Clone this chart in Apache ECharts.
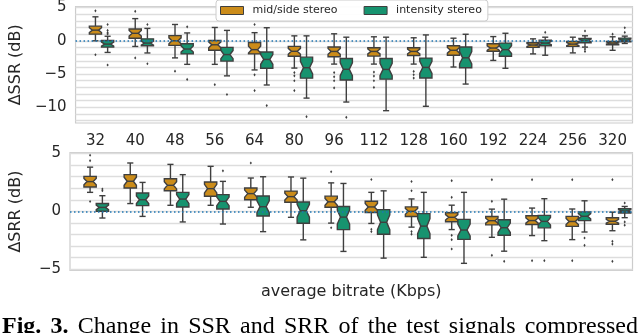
<!DOCTYPE html>
<html><head><meta charset="utf-8">
<script src="https://cdn.jsdelivr.net/npm/echarts@6/dist/echarts.min.js"></script>
<style>
html,body{margin:0;padding:0;background:#fff;overflow:hidden;width:640px;height:333px}
#chart{position:absolute;left:0;top:0;width:640px;height:333px}
#cap{position:absolute;left:2px;top:312px;width:636px;font-family:"Liberation Serif","Times New Roman",serif;font-size:24px;line-height:27px;text-align:justify;text-align-last:justify;color:#000}
</style></head><body>
<div id="chart"></div>
<div id="cap"><b>Fig. 3.</b> Change in SSR and SRR of the test signals compressed</div>
<script>
// ---- data ----
const categories = ['32','40','48','56','64','80','96','112','128','160','192','224','256','320'];
const seriesNames = ['mid/side stereo', 'intensity stereo'];
// each entry: [lower whisker, Q1, median, Q3, upper whisker]
const ssrMidSide = [
  [0.0, 1.0, 1.6, 2.2, 3.6],
  [-0.85, 0.38, 1.12, 1.77, 3.33],
  [-2.57, -0.69, 0.0, 0.78, 2.45],
  [-3.54, -1.43, -0.6, 0.04, 2.0],
  [-4.38, -1.97, -1.33, -0.25, 1.22],
  [-4.1, -2.32, -1.58, -0.84, 0.74],
  [-3.5, -2.4, -1.6, -0.94, 1.05],
  [-3.5, -2.3, -1.6, -1.05, 0.6],
  [-3.5, -2.2, -1.6, -1.05, 0.45],
  [-3.94, -2.17, -1.43, -0.74, 0.39],
  [-2.95, -1.58, -1.09, -0.45, 0.63],
  [-1.97, -0.99, -0.64, -0.3, 0.29],
  [-1.82, -0.84, -0.5, -0.1, 0.54],
  [-1.43, -0.6, -0.35, -0.1, 0.6]
];
const ssrIntensity = [
  [-1.75, -0.95, -0.5, 0.05, 0.68],
  [-1.83, -0.74, -0.35, 0.29, 1.86],
  [-3.54, -1.97, -1.24, -0.44, 1.18],
  [-5.27, -3.05, -2.07, -0.99, 1.56],
  [-6.64, -4.13, -2.8, -1.68, 1.96],
  [-8.61, -5.61, -4.04, -2.46, 0.74],
  [-9.2, -5.9, -4.28, -2.66, 0.54],
  [-10.5, -5.76, -4.3, -2.66, 0.54],
  [-9.84, -5.6, -4.0, -2.6, 0.88],
  [-6.5, -4.04, -2.56, -0.94, 0.98],
  [-4.13, -2.32, -1.33, -0.35, 1.13],
  [-2.17, -0.74, -0.35, 0.09, 0.54],
  [-0.95, -0.3, 0.05, 0.35, 0.75],
  [-0.4, -0.15, 0.1, 0.4, 0.7]
];
const ssrMidSideOutliers = [
  [4.5, -2.1], [4.42, -2.57], [-4.57], [-6.6], [2.45, -5.12, -7.48],
  [-4.78, -5.27, -6.0, -7.48], [-4.77, -5.41, -6.0, -7.08], [-4.7, -5.3, -6.0, -7.0],
  [-4.6, -5.1, -5.6], [], [], [], [], [1.0]
];
const ssrIntensityOutliers = [
  [2.45, 1.56, 1.22, 1.03, -3.64], [2.45, -3.45], [2.1, -5.81], [-8.07], [-9.73],
  [-11.4], [-11.5], [], [], [], [], [1.27], [1.47, -1.25, -1.6], [1.96, 1.25]
];
const srrMidSide = [
  [1.64, 2.1, 2.57, 3.02, 3.82],
  [0.67, 2.02, 2.6, 3.17, 4.18],
  [0.52, 1.78, 2.25, 2.82, 4.06],
  [0.52, 1.3, 1.96, 2.53, 3.89],
  [0.35, 1.0, 1.53, 2.02, 2.88],
  [-0.52, 0.78, 1.27, 1.75, 2.97],
  [-1.02, 0.35, 0.82, 1.31, 2.46],
  [-1.05, -0.1, 0.38, 0.87, 1.64],
  [-1.37, -0.45, 0.0, 0.38, 1.07],
  [-1.58, -0.9, -0.52, -0.12, 0.53],
  [-2.25, -1.17, -0.81, -0.45, 0.19],
  [-2.1, -1.14, -0.8, -0.38, 0.28],
  [-2.45, -1.3, -0.88, -0.44, 0.2],
  [-1.68, -1.12, -0.86, -0.56, -0.08]
];
const srrIntensity = [
  [-0.58, 0.0, 0.34, 0.67, 1.35],
  [-0.44, 0.49, 1.0, 1.58, 2.5],
  [-0.92, 0.37, 1.06, 1.64, 3.17],
  [-1.1, 0.2, 0.86, 1.44, 2.59],
  [-1.76, -0.4, 0.4, 1.32, 2.99],
  [-2.47, -1.03, 0.05, 0.8, 2.87],
  [-3.47, -1.58, -0.5, 0.42, 2.41],
  [-4.05, -1.98, -0.95, 0.15, 1.77],
  [-3.98, -2.35, -1.28, -0.2, 1.64],
  [-4.5, -2.43, -1.62, -0.7, 1.64],
  [-3.45, -2.07, -1.42, -0.73, 1.05],
  [-2.54, -1.43, -0.87, -0.35, 1.09],
  [-1.79, -0.81, -0.43, -0.05, 0.91],
  [-0.55, -0.15, 0.03, 0.22, 0.42]
];
const srrMidSideOutliers = [
  [4.85, 4.38, 0.85], [], [], [], [4.18], [], [3.42, -1.42], [2.75, -1.55, -1.75],
  [2.58, 1.78, -1.75, -1.98], [2.65, 1.21, -2.08, -2.45, -3.26], [2.74, 0.86, -3.81],
  [2.74, -4.27], [2.74, -4.27], [2.74, -2.6, -2.83, -4.33]
];
const srrIntensityOutliers = [
  [1.93, 1.78], [], [], [3.5], [], [], [], [], [], [], [-4.33], [-4.27], [-2.31, -2.94], [0.72, -0.92, -1.2]
];
const ssrTickLabels = [5, 0, -5, -10];
const ssrGridValues = [-12, -11, -10, -9, -8, -7, -6, -5, -4, -3, -2, -1, 0, 1, 2, 3, 4, 5];
const srrTickLabels = [5, 0, -5];
const srrGridValues = [-5, -4, -3, -2, -1, 0, 1, 2, 3, 4, 5];

// ---- style ----
const ORANGE = '#cb8c1a';
const GREEN = '#17936f';
const EDGE = '#3f3f3f';
const LW = 1.4;
const BOX_FRAC = 0.306;   // box width as fraction of category band
const NOTCH_K = 0.3;      // notch half-extent as fraction of IQR (1.57/sqrt(n))
const FONT = 'DejaVu Sans';
const TXT = '#262626';

function boxRender(offsetFrac, color) {
  return function (params, api) {
    const i = api.value(0);
    const low = api.value(1), q1 = api.value(2), med = api.value(3), q3 = api.value(4), high = api.value(5);
    const band = api.size([1, 0])[0];
    const w = band * BOX_FRAC;
    const cx = api.coord([i, med])[0] + offsetFrac * band;
    const y = v => api.coord([i, v])[1];
    const half = NOTCH_K * (q3 - q1);
    const L = cx - w / 2, R = cx + w / 2, cl = cx - w / 4, cr = cx + w / 4;
    const pts = [[L, y(q1)], [L, y(med - half)], [cl, y(med)], [L, y(med + half)], [L, y(q3)],
                 [R, y(q3)], [R, y(med + half)], [cr, y(med)], [R, y(med - half)], [R, y(q1)]];
    const ls = {stroke: EDGE, lineWidth: LW};
    return {
      type: 'group',
      children: [
        {type: 'line', shape: {x1: cx, y1: y(q3), x2: cx, y2: y(high)}, style: ls},
        {type: 'line', shape: {x1: cx, y1: y(q1), x2: cx, y2: y(low)}, style: ls},
        {type: 'line', shape: {x1: cl, y1: y(high), x2: cr, y2: y(high)}, style: ls},
        {type: 'line', shape: {x1: cl, y1: y(low), x2: cr, y2: y(low)}, style: ls},
        {type: 'polygon', shape: {points: pts}, style: {fill: color, stroke: EDGE, lineWidth: LW, lineJoin: 'miter'}},
        {type: 'line', shape: {x1: cl, y1: y(med), x2: cr, y2: y(med)}, style: ls}
      ]
    };
  };
}
function outlierRender(offsetFrac) {
  return function (params, api) {
    const band = api.size([1, 0])[0];
    const p = api.coord([api.value(0), api.value(1)]);
    const x = p[0] + offsetFrac * band, yy = p[1];
    return {type: 'polygon', shape: {points: [[x, yy - 1.6], [x + 1.1, yy], [x, yy + 1.6], [x - 1.1, yy]]},
            style: {fill: EDGE}};
  };
}
function boxData(arr) { return arr.map((d, i) => [i].concat(d)); }
function outData(arr) { const r = []; arr.forEach((vals, i) => vals.forEach(v => r.push([i, v]))); return r; }
const zeroLine = {
  silent: true, symbol: ['none', 'none'], label: {show: false},
  lineStyle: {type: [1.5, 2.5], color: '#1f77b4', width: 1.5},
  emphasis: {disabled: true},
  data: [{yAxis: 0}]
};
function panelSeries(gi, ms, is, msOut, isOut) {
  return [
    {type: 'custom', name: seriesNames[0], xAxisIndex: gi, yAxisIndex: gi, renderItem: boxRender(0, ORANGE),
     itemStyle: {color: ORANGE}, encode: {x: 0, y: [1, 2, 3, 4, 5]}, data: boxData(ms), z: 3},
    {type: 'custom', name: seriesNames[1], xAxisIndex: gi, yAxisIndex: gi, renderItem: boxRender(BOX_FRAC, GREEN),
     itemStyle: {color: GREEN}, encode: {x: 0, y: [1, 2, 3, 4, 5]}, data: boxData(is), z: 3},
    {type: 'custom', name: seriesNames[0], xAxisIndex: gi, yAxisIndex: gi, renderItem: outlierRender(0),
     itemStyle: {color: ORANGE}, encode: {x: 0, y: 1}, data: outData(msOut), z: 4},
    {type: 'custom', name: seriesNames[1], xAxisIndex: gi, yAxisIndex: gi, renderItem: outlierRender(BOX_FRAC),
     itemStyle: {color: GREEN}, encode: {x: 0, y: 1}, data: outData(isOut), z: 4,
     markLine: zeroLine}
  ];
}
const minusFmt = v => String(v).replace('-', '\u2212');
function yAx(gi, min, max, labels, grid, name) {
  return {
    type: 'value', gridIndex: gi, min: min, max: max,
    name: name, nameLocation: 'middle', nameGap: 46, nameRotate: 90,
    nameTextStyle: {fontFamily: FONT, fontSize: 16, color: TXT},
    axisLine: {show: false},
    axisTick: {show: false, customValues: grid},
    axisLabel: {customValues: labels, formatter: minusFmt, fontFamily: FONT, fontSize: 15, color: TXT, margin: 9},
    splitLine: {show: true, lineStyle: {color: '#dddddd', width: 1.3}}
  };
}
const chart = echarts.init(document.getElementById('chart'), null, {renderer: 'canvas'});
chart.setOption({
  animation: false,
  backgroundColor: '#ffffff',
  legend: {
    left: 216, top: 0, orient: 'horizontal',
    data: [
      {name: seriesNames[0], icon: 'rect', itemStyle: {color: ORANGE, borderColor: EDGE, borderWidth: 1}},
      {name: seriesNames[1], icon: 'rect', itemStyle: {color: GREEN, borderColor: EDGE, borderWidth: 1}}
    ],
    itemWidth: 23, itemHeight: 8, itemGap: 26,
    padding: [5, 6, 5, 4],
    backgroundColor: 'rgba(255,255,255,0.92)', borderColor: '#cccccc', borderWidth: 1, borderRadius: 3,
    textStyle: {fontFamily: FONT, fontSize: 11, color: TXT, padding: [0, 0, 0, 4]},
    selectedMode: false
  },
  grid: [
    {left: 70, top: 4.5, width: 562.5, height: 118.5, show: true, borderColor: '#cccccc', borderWidth: 1.2, containLabel: false},
    {left: 70, top: 152.7, width: 562.5, height: 117.8, show: true, borderColor: '#cccccc', borderWidth: 1.2, containLabel: false}
  ],
  xAxis: [
    {type: 'category', gridIndex: 0, data: categories, boundaryGap: true,
     axisLine: {show: false}, axisTick: {show: false}, splitLine: {show: false},
     axisLabel: {fontFamily: FONT, fontSize: 15, color: TXT, margin: 11, interval: 0}},
    {type: 'category', gridIndex: 1, data: categories, boundaryGap: true,
     axisLine: {show: false}, axisTick: {show: false}, splitLine: {show: false},
     axisLabel: {show: false},
     name: 'average bitrate (Kbps)', nameLocation: 'middle', nameGap: 13,
     nameTextStyle: {fontFamily: FONT, fontSize: 16, color: TXT}}
  ],
  yAxis: [
    yAx(0, -12.35, 5.13, ssrTickLabels, ssrGridValues, '\u0394SSR (dB)'),
    yAx(1, -5.12, 5.07, srrTickLabels, srrGridValues, '\u0394SRR (dB)')
  ],
  series: [].concat(
    panelSeries(0, ssrMidSide, ssrIntensity, ssrMidSideOutliers, ssrIntensityOutliers),
    panelSeries(1, srrMidSide, srrIntensity, srrMidSideOutliers, srrIntensityOutliers)
  )
});
</script>
</body></html>
